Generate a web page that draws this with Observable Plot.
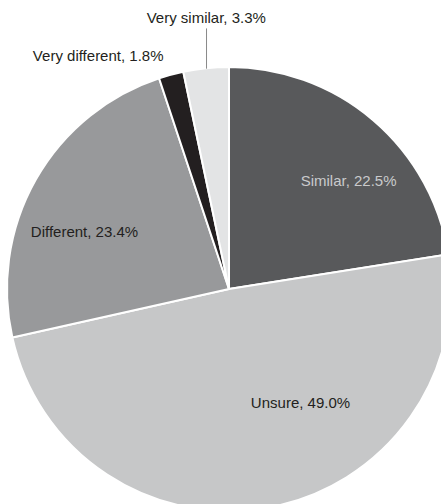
<!DOCTYPE html>
<html>
<head>
<meta charset="utf-8">
<script src="https://cdn.jsdelivr.net/npm/d3@7"></script>
<script src="https://cdn.jsdelivr.net/npm/@observablehq/plot@0.6"></script>
<style>
  html, body { margin: 0; padding: 0; background: #fff; }
  #chart svg { display: block; font-family: "Liberation Sans", Arial, Helvetica, sans-serif; }
</style>
</head>
<body>
<div id="chart"></div>
<script>
// Data
const categories = ["Similar", "Unsure", "Different", "Very different", "Very similar"];
const percents = [22.5, 49.0, 23.4, 1.8, 3.3];

// Styles (kept separate from the data)
const sliceColors = ["#58595b", "#c6c7c8", "#98999b", "#231f20", "#e3e4e5"];
const labelColors = ["#c9cacc", "#231f20", "#231f20", "#231f20", "#231f20"];
// label anchor: angle (deg clockwise from 12 o'clock) and radius as fraction of pie radius
const labelAngle = [47.8, 148.1, 291.5, 330.6, 355.1];
const labelRadius = [0.724, 0.605, 0.702, 1.205, 1.225];

// Layout: pie centre at (229, 289) px, radius 222 px
const W = 441, H = 504, CX = 229, CY = 289, R = 222;

const arcs = d3.pie().sort(null).value(d => d)(percents);

const labels = categories.map((c, i) => {
  const a = labelAngle[i] * Math.PI / 180;
  return {
    text: `${c}, ${percents[i].toFixed(1)}%`,
    x: labelRadius[i] * Math.sin(a),
    y: labelRadius[i] * Math.cos(a),
    color: labelColors[i]
  };
});

// leader line for "Very similar" at the slice's mid angle
const vs = arcs[4];
const mid = (vs.startAngle + vs.endAngle) / 2;
const leader = [{x: Math.sin(mid), y1: Math.cos(mid), y2: 1.176}];

function pieMark(index, scales) {
  const cx = scales.x(0), cy = scales.y(0), r = scales.x(1) - scales.x(0);
  const g = d3.create("svg:g").attr("transform", `translate(${cx},${cy})`);
  const arc = d3.arc().innerRadius(0).outerRadius(r);
  g.selectAll("path").data(arcs).join("path")
    .attr("d", arc)
    .attr("fill", (d, i) => sliceColors[i])
    .attr("stroke", "white")
    .attr("stroke-width", 2)
    .attr("stroke-linejoin", "round");
  return g.node();
}

const chart = Plot.plot({
  width: W,
  height: H,
  margin: 0,
  x: {domain: [-CX / R, (W - CX) / R], axis: null},
  y: {domain: [(CY - H) / R, CY / R], axis: null},
  color: {type: "identity"},
  marks: [
    pieMark,
    Plot.link(leader, {x1: "x", x2: "x", y1: "y1", y2: "y2", stroke: "#8a8a8a", strokeWidth: 1}),
    Plot.text(labels, {x: "x", y: "y", text: "text", fill: "color", fontSize: 15, textAnchor: "middle"})
  ]
});
document.getElementById("chart").appendChild(chart);
</script>
</body>
</html>
